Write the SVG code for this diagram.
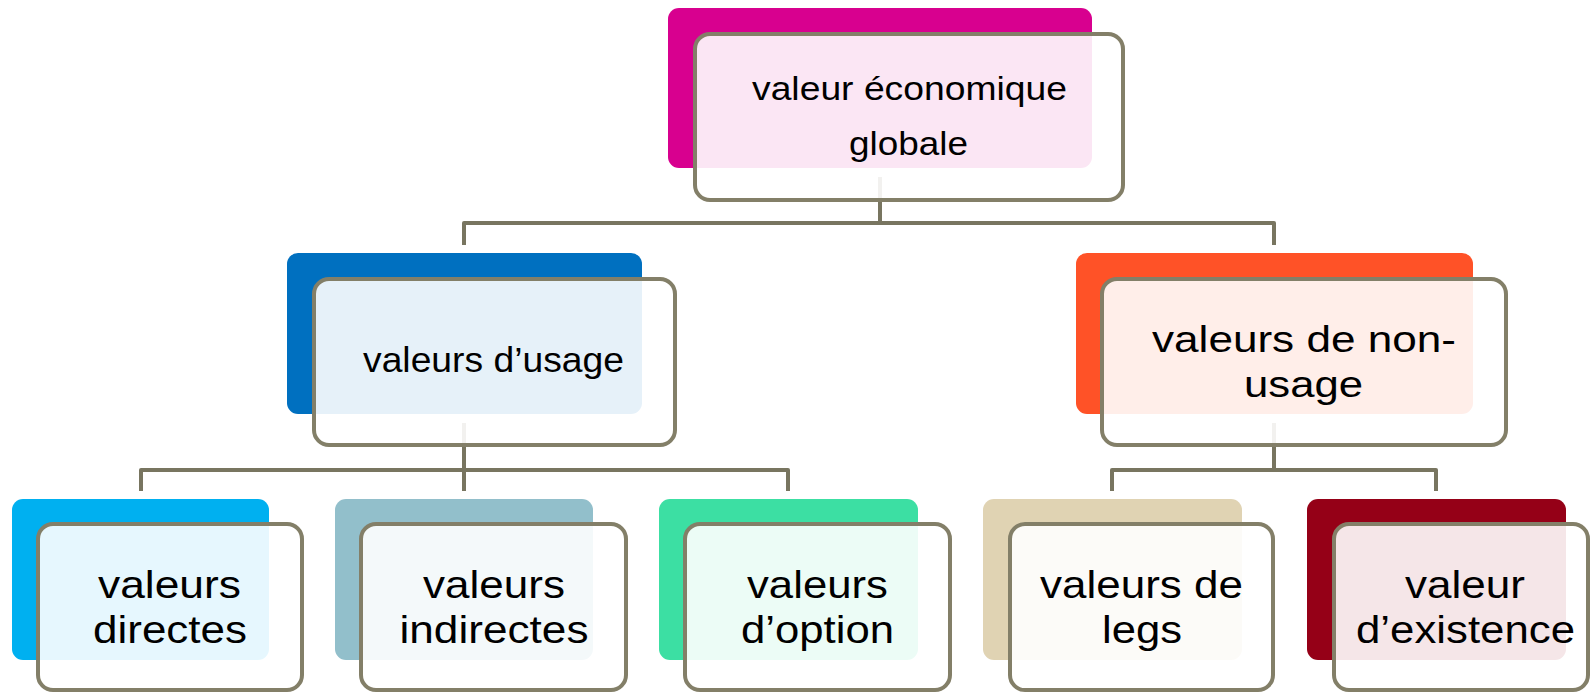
<svg xmlns="http://www.w3.org/2000/svg" width="1590" height="693" viewBox="0 0 1590 693">
  <style>
    .back { stroke: none; }
    .front { fill: #ffffff; fill-opacity: 0.9; stroke: #837f68; stroke-width: 4; }
    .conn { fill: none; stroke: #787560; stroke-width: 4; stroke-linejoin: round; }
    .t { font-family: "Liberation Sans", Arial, sans-serif; fill: #000000; text-anchor: middle; }
  </style>
  <rect x="0" y="0" width="1590" height="693" fill="#ffffff"/>
  <g id="connectors">
    <path class="conn" d="M880 177 V223"/>
    <path class="conn" d="M464 245 V223 H1274 V245"/>
    <path class="conn" d="M464 423 V470"/>
    <path class="conn" d="M141 491 V470 H788 V491"/>
    <path class="conn" d="M464 470 V491"/>
    <path class="conn" d="M1274 423 V470"/>
    <path class="conn" d="M1112 491 V470 H1436 V491"/>
  </g>
  <g id="node-global">
    <rect class="back" x="668" y="8" width="424" height="160" rx="11" fill="#d8008f"/>
    <rect class="front" x="695" y="34" width="428" height="166" rx="15"/>
    <text class="t" font-size="34" x="909.5" y="100" textLength="315" lengthAdjust="spacingAndGlyphs">valeur économique</text>
    <text class="t" font-size="34" x="908.5" y="155" textLength="119" lengthAdjust="spacingAndGlyphs">globale</text>
  </g>
  <g id="node-usage">
    <rect class="back" x="287" y="253" width="355" height="161" rx="11" fill="#0070c0"/>
    <rect class="front" x="314" y="279" width="361" height="166" rx="15"/>
    <text class="t" font-size="35" x="493.5" y="372" textLength="261" lengthAdjust="spacingAndGlyphs">valeurs d’usage</text>
  </g>
  <g id="node-nonusage">
    <rect class="back" x="1076" y="253" width="397" height="161" rx="11" fill="#ff5227"/>
    <rect class="front" x="1102" y="279" width="404" height="166" rx="15"/>
    <text class="t" font-size="37" x="1304" y="352" textLength="304" lengthAdjust="spacingAndGlyphs">valeurs de non-</text>
    <text class="t" font-size="37" x="1303.5" y="397" textLength="119" lengthAdjust="spacingAndGlyphs">usage</text>
  </g>
  <g id="node-directes">
    <rect class="back" x="12" y="499" width="257" height="161" rx="11" fill="#00b0f0"/>
    <rect class="front" x="38" y="524" width="264" height="166" rx="15"/>
    <text class="t" font-size="39" x="169.5" y="598" textLength="143" lengthAdjust="spacingAndGlyphs">valeurs</text>
    <text class="t" font-size="39" x="170" y="643" textLength="154" lengthAdjust="spacingAndGlyphs">directes</text>
  </g>
  <g id="node-indirectes">
    <rect class="back" x="335" y="499" width="258" height="161" rx="11" fill="#92bfcb"/>
    <rect class="front" x="361" y="524" width="265" height="166" rx="15"/>
    <text class="t" font-size="39" x="494" y="598" textLength="142" lengthAdjust="spacingAndGlyphs">valeurs</text>
    <text class="t" font-size="39" x="494" y="643" textLength="189" lengthAdjust="spacingAndGlyphs">indirectes</text>
  </g>
  <g id="node-option">
    <rect class="back" x="659" y="499" width="259" height="161" rx="11" fill="#3cdfa3"/>
    <rect class="front" x="685" y="524" width="265" height="166" rx="15"/>
    <text class="t" font-size="39" x="817.5" y="598" textLength="141" lengthAdjust="spacingAndGlyphs">valeurs</text>
    <text class="t" font-size="39" x="817.5" y="643" textLength="153" lengthAdjust="spacingAndGlyphs">d’option</text>
  </g>
  <g id="node-legs">
    <rect class="back" x="983" y="499" width="259" height="161" rx="11" fill="#e0d3b3"/>
    <rect class="front" x="1010" y="524" width="263" height="166" rx="15"/>
    <text class="t" font-size="39" x="1141.5" y="598" textLength="203" lengthAdjust="spacingAndGlyphs">valeurs de</text>
    <text class="t" font-size="39" x="1142" y="643" textLength="80" lengthAdjust="spacingAndGlyphs">legs</text>
  </g>
  <g id="node-existence">
    <rect class="back" x="1307" y="499" width="259" height="161" rx="11" fill="#950017"/>
    <rect class="front" x="1334" y="524" width="254" height="166" rx="15"/>
    <text class="t" font-size="39" x="1465" y="598" textLength="120" lengthAdjust="spacingAndGlyphs">valeur</text>
    <text class="t" font-size="39" x="1465.5" y="643" textLength="219" lengthAdjust="spacingAndGlyphs">d’existence</text>
  </g>
</svg>
